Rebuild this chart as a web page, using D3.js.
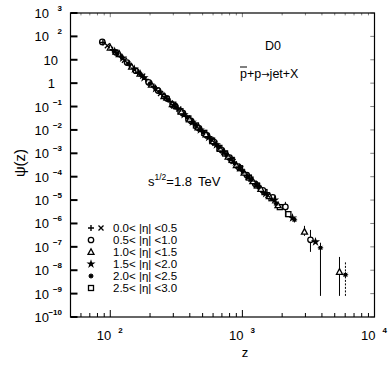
<!DOCTYPE html>
<html><head><meta charset="utf-8">
<script src="https://cdn.jsdelivr.net/npm/d3@7"></script>
<style>
body{margin:0;background:#fff}
svg{display:block}
text{font-family:"Liberation Sans",Arial,Helvetica,sans-serif;fill:#000}
</style>
</head><body>
<svg id="chart" width="392" height="371"></svg>
<script>
// ---------- data ----------
const xDomain = [50, 10000];
const yDomain = [1e-10, 1e3];
const xTickExps = [2, 3, 4];
const yTickExps = [3, 2, 1, 0, -1, -2, -3, -4, -5, -6, -7, -8, -9, -10];
const legendLabels = ["0.0< |η| <0.5", "0.5< |η| <1.0", "1.0< |η| <1.5", "1.5< |η| <2.0", "2.0< |η| <2.5", "2.5< |η| <3.0"];

// [z, psi]
const eta00plus = [[88,55],[104,27],[120,13.8],[140,6.2],[162,2.9],[186,1.45],[214,0.72],[246,0.33],[283,0.165],[325,0.082],[374,0.038],[430,0.0185],[493,0.0088],[567,0.0044],[652,0.0021],[750,0.00092],[862,0.00041],[990,0.00019],[1140,8.4e-5],[1310,3.8e-5]];
const eta00cross = [[95,40],[128,9.5],[176,2.0],[240,0.36],[330,0.078],[452,0.0140],[620,0.0027],[850,0.00045],[1160,8.0e-5],[1560,1.6e-5]];
const eta05 = [[87,58],[110,21],[134,7.6],[156,3.4],[195,1.08],[230,0.48],[268,0.225],[310,0.104],[355,0.052],[410,0.024],[470,0.0118],[540,0.0058],[610,0.0030],[700,0.00135],[800,0.00066],[930,0.00027],[1080,0.000118],[1250,5.0e-5],[1430,2.6e-5],[1700,1.3e-5],[2117,5.1e-6],[3276,2.0e-7]];
const eta10 = [[100,33],[117,17.5],[145,5.0],[168,2.55],[205,0.86],[255,0.28],[295,0.125],[345,0.060],[398,0.028],[462,0.0128],[530,0.0064],[600,0.0033],[680,0.00155],[780,0.00072],[900,0.00031],[1030,0.000148],[1200,6.4e-5],[1380,3.0e-5],[1600,1.45e-5],[1860,6.0e-6],[2951,4.4e-7],[5433,8.5e-9]];
const eta15 = [[108,23],[124,11.8],[152,4.0],[180,1.7],[220,0.58],[262,0.245],[302,0.112],[362,0.045],[418,0.0215],[480,0.0100],[555,0.0048],[635,0.0023],[720,0.00115],[820,0.00056],[950,0.00024],[1100,0.000102],[1270,4.5e-5],[1500,1.9e-5],[1750,1.0e-5],[2395,1.73e-6],[3575,1.64e-7]];
const eta20 = [[113,18],[137,6.8],[170,2.3],[200,0.95],[236,0.42],[275,0.19],[316,0.092],[385,0.034],[440,0.0165],[505,0.0080],[580,0.0038],[665,0.0018],[760,0.00085],[875,0.00037],[1010,0.000165],[1170,7.5e-5],[1330,3.6e-5],[1800,7.0e-6],[2477,1.43e-6],[3900,9.1e-8],[6026,6.4e-9]];
const eta25 = [[300,0.12],[340,0.063],[390,0.031],[445,0.0155],[515,0.0075],[590,0.0035],[670,0.0017],[740,0.00098],[830,0.00052],[960,0.00023],[1120,9.2e-5],[1290,4.2e-5],[1470,2.2e-5],[1660,1.2e-5],[1920,5.0e-6],[2230,2.5e-6]];

// error bars: z, low, high, dashed
const errZ    = [2117, 2951, 3276, 3900, 5433, 6026];
const errLow  = [1.9e-6, 2.95e-7, 6.1e-8, 8e-10, 8e-10, 8e-10];
const errHigh = [8.4e-6, 7.9e-7, 5.3e-7, 1.5e-7, 3.7e-8, 2.3e-8];
const errDashed = [false, false, false, false, false, true];

// ---------- layout ----------
const L = 70.5, R = 374.5, T = 13, B = 317;
const svg = d3.select("#chart");
const x = d3.scaleLog().domain(xDomain).range([L, R]);
const y = d3.scaleLog().domain(yDomain).range([B, T]);

// frame
svg.append("rect").attr("x", L).attr("y", T).attr("width", R - L).attr("height", B - T)
  .attr("fill", "none").attr("stroke", "#000").attr("stroke-width", 1.2);

const isMajor = v => Math.abs(Math.log10(v) - Math.round(Math.log10(v))) < 1e-9;
const gt = svg.append("g").attr("stroke", "#000");
x.ticks().forEach(v => {
  const len = isMajor(v) ? 7 : 4;
  gt.append("line").attr("x1", x(v)).attr("x2", x(v)).attr("y1", B).attr("y2", B - len).attr("stroke-width", 1);
  gt.append("line").attr("x1", x(v)).attr("x2", x(v)).attr("y1", T).attr("y2", T + len * 0.6).attr("stroke-width", 0.5);
});
y.ticks().forEach(v => {
  const maj = isMajor(v);
  const len = maj ? 7 : 5;
  gt.append("line").attr("x1", L).attr("x2", L + len).attr("y1", y(v)).attr("y2", y(v)).attr("stroke-width", maj ? 2 : 1);
  gt.append("line").attr("x1", R).attr("x2", R - len * 0.6).attr("y1", y(v)).attr("y2", y(v)).attr("stroke-width", 0.5);
});

// y tick labels
yTickExps.forEach(e => {
  const yy = y(Math.pow(10, e)) + 5;
  if (e === 1) {
    svg.append("text").attr("x", 58).attr("y", yy).attr("text-anchor", "end").attr("font-size", 13).text("10");
  } else if (e === 0) {
    svg.append("text").attr("x", 55).attr("y", yy).attr("text-anchor", "end").attr("font-size", 13).text("1");
  } else {
    svg.append("text").attr("x", 49).attr("y", yy).attr("text-anchor", "end").attr("font-size", 13).text("10");
    svg.append("text").attr("x", 62).attr("y", yy - 7).attr("text-anchor", "end").attr("font-size", 8).attr("font-weight", "bold")
      .text(e < 0 ? "−" + (-e) : String(e));
  }
});

// x tick labels
xTickExps.forEach(e => {
  const xx = x(Math.pow(10, e));
  svg.append("text").attr("x", xx + 1).attr("y", 340).attr("text-anchor", "end").attr("font-size", 13).text("10");
  svg.append("text").attr("x", xx + 8).attr("y", 333).attr("text-anchor", "start").attr("font-size", 8).attr("font-weight", "bold").text(String(e));
});

// axis titles
svg.append("text").attr("x", 245).attr("y", 357).attr("text-anchor", "middle").attr("font-size", 13).text("z");
svg.append("text").attr("transform", "translate(25,163) rotate(-90)").attr("text-anchor", "middle").attr("font-size", 15).text("ψ(z)");

// annotations
svg.append("text").attr("x", 273).attr("y", 50).attr("text-anchor", "middle").attr("font-size", 12.5).text("D0");
const pp = svg.append("text").attr("x", 240).attr("y", 78).attr("font-size", 12.5);
pp.append("tspan").text("p+p");
pp.append("tspan").attr("font-family", "DejaVu Sans").attr("font-size", 10).text("→");
pp.append("tspan").text("jet+X");
svg.append("line").attr("x1", 240).attr("x2", 247).attr("y1", 67).attr("y2", 67).attr("stroke", "#000").attr("stroke-width", 1);
const st = svg.append("text").attr("x", 148).attr("y", 186).attr("font-size", 13);
st.append("tspan").text("s");
st.append("tspan").attr("dy", -6).attr("font-size", 8.5).text("1/2");
st.append("tspan").attr("dy", 6).text("=1.8");
st.append("tspan").attr("dx", 6).text("TeV");

// ---------- markers ----------
function marker(g, type, cx, cy) {
  const s = g.append("g").attr("transform", `translate(${cx},${cy})`);
  if (type === "plus") {
    s.append("path").attr("d", "M-3,0H3M0,-3V3").attr("stroke", "#000").attr("stroke-width", 1.4);
  } else if (type === "cross") {
    s.append("path").attr("d", "M-2.5,-2.5L2.5,2.5M-2.5,2.5L2.5,-2.5").attr("stroke", "#000").attr("stroke-width", 1.3);
  } else if (type === "circle") {
    s.append("circle").attr("r", 2.7).attr("fill", "#fff").attr("stroke", "#000").attr("stroke-width", 1.3);
  } else if (type === "triangle") {
    s.append("path").attr("d", "M0,-3.2L3,2.4L-3,2.4Z").attr("fill", "#fff").attr("stroke", "#000").attr("stroke-width", 1.3);
  } else if (type === "star") {
    s.append("path").attr("d", d3.symbol(d3.symbolStar, 26)()).attr("fill", "#000");
  } else if (type === "asterisk") {
    s.append("circle").attr("r", 2.1).attr("fill", "#000");
    s.append("path").attr("d", "M-2.8,0H2.8M0,-2.8V2.8M-2,-2L2,2M-2,2L2,-2").attr("stroke", "#000").attr("stroke-width", 0.8);
  } else if (type === "square") {
    s.append("rect").attr("x", -2.5).attr("y", -2.5).attr("width", 5).attr("height", 5).attr("fill", "#fff").attr("stroke", "#000").attr("stroke-width", 1.3);
  }
}

// error bars
const ge = svg.append("g");
errZ.forEach((z, i) => {
  ge.append("line").attr("x1", x(z)).attr("x2", x(z)).attr("y1", y(errLow[i])).attr("y2", y(errHigh[i]))
    .attr("stroke", "#000").attr("stroke-width", 1).attr("stroke-dasharray", errDashed[i] ? "2,1.5" : null);
});

const seriesList = [
  [eta25, "square"], [eta05, "circle"], [eta10, "triangle"], [eta15, "star"], [eta20, "asterisk"],
  [eta00plus, "plus"], [eta00cross, "cross"]
];
const gp = svg.append("g");
seriesList.forEach(([data, type]) => data.forEach(d => marker(gp, type, x(d[0]), y(d[1]))));

// legend
const legendTypes = [["plus", "cross"], ["circle"], ["triangle"], ["star"], ["asterisk"], ["square"]];
const gl = svg.append("g");
legendLabels.forEach((lab, i) => {
  const ly = 228 + i * 12;
  legendTypes[i].forEach((t, j) => marker(gl, t, 91 + j * 10, ly));
  gl.append("text").attr("x", 113).attr("y", ly + 4).attr("font-size", 11.5).attr("xml:space", "preserve").text(lab);
});
</script>
</body></html>
